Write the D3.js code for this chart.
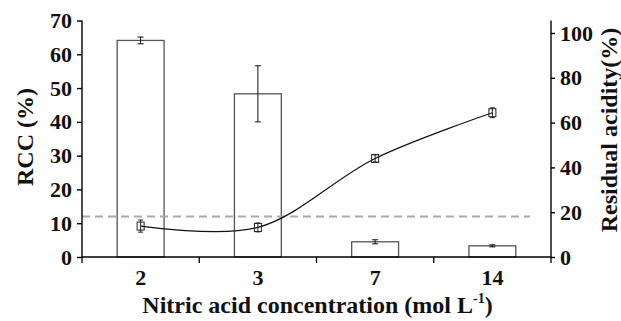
<!DOCTYPE html>
<html><head><meta charset="utf-8">
<script src="https://cdn.jsdelivr.net/npm/d3@7"></script>
<style>body{margin:0;background:#fff}svg{display:block}</style>
</head><body>
<svg id="c" width="621" height="321"></svg>
<script>
const categories = ["2","3","7","14"];
const rccValues = [64.1, 48.3, 4.5, 3.3];
const rccErrors = [1.0, 8.3, 0.6, 0.3];
const acidityValues = [13.8, 13.2, 44.0, 64.4];
const acidityErrors = [2.7, 2.0, 1.6, 2.2];
const leftTicks = [0,10,20,30,40,50,60,70];
const rightTicks = [0,20,40,60,80,100];
const thresholdRcc = 12;

const FONT = '"Liberation Serif", monospace';
const svg = d3.select("#c");
const L = 82, R = 551, T = 20.5, B = 257;

const x = d3.scaleBand().domain(categories).range([L, R]).paddingInner(0).paddingOuter(0);
const yL = d3.scaleLinear().domain([0,70]).range([B, T]);
const yR = d3.scaleLinear().domain([0,100]).range([B, 33]);

// bars
const barW = x.bandwidth()*0.4;
svg.append("g").selectAll("rect").data(categories).join("rect")
  .attr("x", d => x(d)+x.bandwidth()/2-barW/2)
  .attr("y", (d,i) => yL(rccValues[i]))
  .attr("width", barW)
  .attr("height", (d,i) => B - yL(rccValues[i]))
  .attr("fill", "#fff").attr("stroke", "#555").attr("stroke-width", 1.3);

// bar error bars
const eb = svg.append("g").attr("stroke", "#111").attr("stroke-width", 1);
categories.forEach((c,i) => {
  const cx = x(c)+x.bandwidth()/2;
  const y1 = yL(rccValues[i]+rccErrors[i]), y2 = yL(rccValues[i]-rccErrors[i]);
  eb.append("line").attr("x1",cx).attr("x2",cx).attr("y1",y1).attr("y2",y2);
  eb.append("line").attr("x1",cx-3).attr("x2",cx+3).attr("y1",y1).attr("y2",y1);
  eb.append("line").attr("x1",cx-3).attr("x2",cx+3).attr("y1",y2).attr("y2",y2);
});

// dashed threshold
svg.append("line").attr("x1", L).attr("x2", 530)
  .attr("y1", yL(thresholdRcc)).attr("y2", yL(thresholdRcc))
  .attr("stroke", "#aaa").attr("stroke-width", 2).attr("stroke-dasharray", "8,5");

// line
const pts = categories.map((c,i) => [x(c)+x.bandwidth()/2, yR(acidityValues[i])]);
svg.append("path").attr("d", d3.line().curve(d3.curveCatmullRom.alpha(0.5))(pts))
  .attr("fill","none").attr("stroke","#111").attr("stroke-width",1.2);

const mk = svg.append("g").attr("stroke","#222").attr("stroke-width",1);
categories.forEach((c,i) => {
  const cx = x(c)+x.bandwidth()/2;
  const y1 = yR(acidityValues[i]+acidityErrors[i]), y2 = yR(acidityValues[i]-acidityErrors[i]);
  mk.append("line").attr("x1",cx).attr("x2",cx).attr("y1",y1).attr("y2",y2);
  mk.append("line").attr("x1",cx-2.5).attr("x2",cx+2.5).attr("y1",y1).attr("y2",y1);
  mk.append("line").attr("x1",cx-2.5).attr("x2",cx+2.5).attr("y1",y2).attr("y2",y2);
  mk.append("rect").attr("x",cx-3.5).attr("y",yR(acidityValues[i])-4).attr("width",7).attr("height",8)
    .attr("fill","none");
});

// axes
const axL = svg.append("g").attr("transform",`translate(${L},0)`)
  .call(d3.axisLeft(yL).tickValues(leftTicks).tickSize(5).tickPadding(5).tickSizeOuter(0));
const axR = svg.append("g").attr("transform",`translate(${R},0)`)
  .call(d3.axisRight(yR).tickValues(rightTicks).tickSize(4).tickPadding(5).tickSizeOuter(0));
const axB = svg.append("g").attr("transform",`translate(0,${B})`)
  .call(d3.axisBottom(x).tickSize(0).tickPadding(12));
// category boundary ticks
svg.append("g").selectAll("line").data(d3.range(categories.length+1)).join("line")
  .attr("x1", i => L + i*x.step()).attr("x2", i => L + i*x.step())
  .attr("y1", B).attr("y2", B+6).attr("stroke","#000").attr("stroke-width",1.3);

[axL, axR, axB].forEach(a => {
  a.attr("font-family", FONT).attr("font-size", 22);
  a.selectAll("text").attr("font-family", FONT).attr("font-size", 22)
    .attr("font-weight","bold").attr("fill","#111");
  a.selectAll("path, line").attr("stroke","#000").attr("stroke-width",1.4);
});
axL.select(".domain").attr("d", `M0,${T}V${B}`);
axR.select(".domain").attr("d", `M0,${T}V${B}`);
axB.select(".domain").attr("d", `M${L},0H${R}`);

// titles
function title(sel){ return sel.attr("font-family", FONT).attr("font-weight","bold").attr("fill","#111"); }
title(svg.append("text")).attr("transform","translate(33,137) rotate(-90)")
  .attr("text-anchor","middle").attr("font-size",24).text("RCC (%)");
title(svg.append("text")).attr("transform","translate(617,130) rotate(-90)")
  .attr("text-anchor","middle").attr("font-size",24).text("Residual acidity(%)");
const xt = title(svg.append("text")).attr("x",(L+R)/2 + 1).attr("y",313)
  .attr("text-anchor","middle").attr("font-size",24);
xt.append("tspan").text("Nitric acid concentration (mol L");
xt.append("tspan").attr("font-size",14).attr("dy",-10).text("-1");
xt.append("tspan").attr("dy",10).text(")");
</script>
</body></html>
